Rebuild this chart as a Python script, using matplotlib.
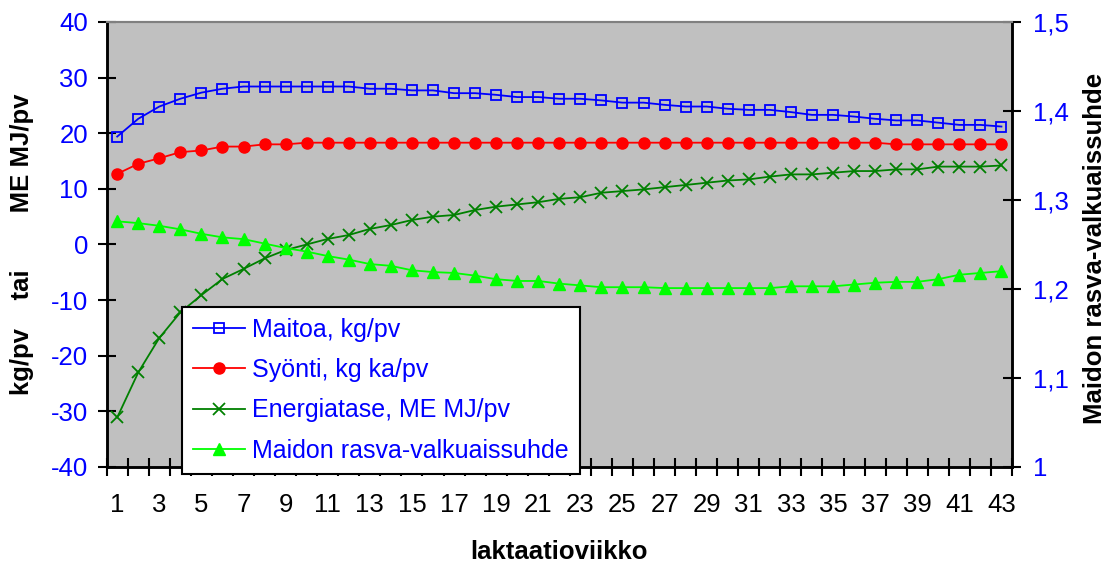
import matplotlib
matplotlib.use("Agg")
import matplotlib.pyplot as plt

plt.rcParams["font.family"] = ["Liberation Sans", "DejaVu Sans"]

viikko = list(range(1, 44))
maitoa = [19.4, 22.6, 24.8, 26.2, 27.3, 28.0, 28.4, 28.4, 28.4, 28.4,
          28.4, 28.4, 28.0, 28.0, 27.7, 27.7, 27.2, 27.2, 26.9, 26.5,
          26.5, 26.2, 26.2, 25.9, 25.5, 25.5, 25.1, 24.8, 24.8, 24.4,
          24.2, 24.2, 23.8, 23.3, 23.3, 23.0, 22.6, 22.3, 22.3, 21.9,
          21.5, 21.5, 21.2]
syonti = [12.7, 14.5, 15.5, 16.6, 16.9, 17.6, 17.6, 18.0, 18.0, 18.3,
          18.3, 18.3, 18.3, 18.3, 18.3, 18.3, 18.3, 18.3, 18.3, 18.3,
          18.3, 18.3, 18.3, 18.3, 18.3, 18.3, 18.3, 18.3, 18.3, 18.3,
          18.3, 18.3, 18.3, 18.3, 18.3, 18.3, 18.3, 18.0, 18.0, 18.0,
          18.0, 18.0, 18.0]
energia = [-31.1, -23.0, -16.8, -12.2, -9.1, -6.2, -4.4, -2.5, -1.0, 0.0,
           1.0, 1.7, 2.8, 3.5, 4.4, 5.0, 5.3, 6.2, 6.8, 7.2,
           7.6, 8.2, 8.5, 9.3, 9.6, 9.9, 10.3, 10.7, 11.1, 11.5,
           11.7, 12.2, 12.6, 12.6, 12.9, 13.2, 13.2, 13.5, 13.5, 14.0,
           14.0, 14.0, 14.2]
suhde = [1.276, 1.274, 1.271, 1.267, 1.262, 1.258, 1.256, 1.251, 1.246, 1.242,
         1.237, 1.233, 1.228, 1.226, 1.221, 1.219, 1.218, 1.215, 1.211, 1.209,
         1.209, 1.206, 1.204, 1.202, 1.202, 1.202, 1.201, 1.201, 1.201, 1.201,
         1.201, 1.201, 1.203, 1.203, 1.203, 1.205, 1.207, 1.208, 1.208, 1.211,
         1.216, 1.218, 1.220]

vasen_ticks = [-40, -30, -20, -10, 0, 10, 20, 30, 40]
oikea_ticks = [1.0, 1.1, 1.2, 1.3, 1.4, 1.5]
oikea_labels = ["1", "1,1", "1,2", "1,3", "1,4", "1,5"]
x_labels = [str(v) for v in viikko if v % 2 == 1]

fig = plt.figure(figsize=(11.09, 5.65), dpi=100)
ax = fig.add_axes([0.0962, 0.1735, 0.8163, 0.7876])
ax.set_facecolor("#C0C0C0")
ax2 = ax.twinx()

l1, = ax.plot(viikko, maitoa, color="#0000FF", lw=1.3, marker="s", ms=7.5,
              mfc="none", mec="#0000FF", mew=1.3, label="Maitoa, kg/pv")
l2, = ax.plot(viikko, syonti, color="#FF0000", lw=1.3, marker="o", ms=8,
              mfc="#FF0000", mec="#FF0000", label="Syönti, kg ka/pv")
l3, = ax.plot(viikko, energia, color="#008000", lw=1.3, marker="x", ms=8.5,
              mew=1.3, label="Energiatase, ME MJ/pv")
l4, = ax2.plot(viikko, suhde, color="#00FF00", lw=1.3, marker="^", ms=9,
               mfc="#00FF00", mec="#00FF00", label="Maidon rasva-valkuaissuhde")

ax.set_xlim(0.5, 43.5)
ax.set_ylim(-40, 40)
ax2.set_ylim(1.0, 1.5)

ax.set_yticks(vasen_ticks)
ax.set_yticklabels([str(v) for v in vasen_ticks])
ax2.set_yticks(oikea_ticks)
ax2.set_yticklabels(oikea_labels)

# tick marks between categories, labels on every second category
ax.set_xticks([i + 0.5 for i in range(0, 44)])
ax.set_xticklabels([])
ax.set_xticks([v for v in viikko if v % 2 == 1], minor=True)
ax.set_xticklabels(x_labels, minor=True)
ax.tick_params(axis="x", which="major", direction="inout", length=13, width=1.5)
ax.tick_params(axis="x", which="minor", length=0, pad=19, labelsize=18.5)
ax.tick_params(axis="y", direction="inout", length=13, width=1.5, pad=7,
               labelsize=18.5, labelcolor="#0000FF")
ax2.tick_params(axis="y", direction="inout", length=13, width=1.5, pad=9,
                labelsize=18.5, labelcolor="#0000FF")

for a in (ax, ax2):
    a.spines["top"].set_color("#808080")
    a.spines["top"].set_linewidth(1.5)
    for s in ("left", "right", "bottom"):
        a.spines[s].set_color("black")
        a.spines[s].set_linewidth(1.8)

ax.set_xlabel("laktaatioviikko", fontsize=18.5, fontweight="bold", labelpad=16)
fig.text(0.020, 0.567, "kg/pv    tai        ME MJ/pv", rotation=90,
         ha="center", va="center", fontsize=18.5, fontweight="bold")
fig.text(0.987, 0.56, "Maidon rasva-valkuaissuhde", rotation=90,
         ha="center", va="center", fontsize=18.5, fontweight="bold")

leg = ax2.legend(handles=[l1, l2, l3, l4], loc="upper left",
                 bbox_to_anchor=(182 / 1109, 1 - 307 / 565),
                 bbox_transform=fig.transFigure, borderaxespad=0,
                 fontsize=18, fancybox=False, framealpha=1, edgecolor="black",
                 handlelength=2.1, handletextpad=0.3, labelspacing=0.66,
                 borderpad=0.42)
leg.get_frame().set_linewidth(1.5)
for t in leg.get_texts():
    t.set_color("#0000FF")

fig.savefig("out.png", dpi=100)
